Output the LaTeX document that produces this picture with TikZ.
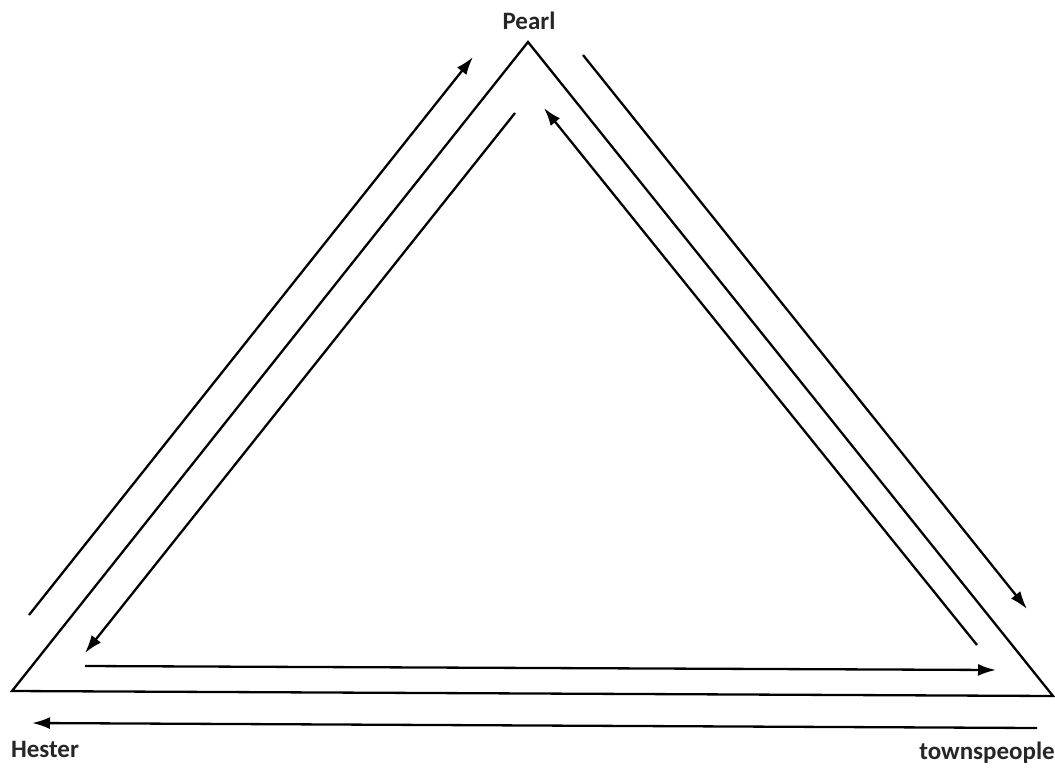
\documentclass[tikz,border=0pt]{standalone}
\usepackage{fontspec}
\setmainfont{Carlito}
\usetikzlibrary{arrows.meta}
\begin{document}
\begin{tikzpicture}[x=1pt,y=-1pt,
  edge/.style={line width=2.3pt,line join=miter},
  flow/.style={line width=2.3pt,-{Latex[length=18pt,width=12pt]}},
  lab/.style={font=\bfseries\fontsize{25}{28}\selectfont,text=black!85,inner sep=0pt}]
\useasboundingbox (0,0) rectangle (1055,769);
% triangle vertices
\coordinate (P) at (528,42);
\coordinate (H) at (12,691);
\coordinate (T) at (1053,696);
\draw[edge] (P) -- (H) -- (T) -- cycle;
% labels
\node[lab] (pearl) at (529,21) {Pearl};
\node[lab] (hester) at (45,749) {Hester};
\node[lab] (towns) at (987,753) {townspeople};
% arrow end points
\coordinate (a1s) at (29,615);   \coordinate (a1e) at (473,57);
\coordinate (a2s) at (515,113);  \coordinate (a2e) at (85,653);
\coordinate (a3s) at (85,666);   \coordinate (a3e) at (996,670);
\coordinate (a4s) at (1037,728); \coordinate (a4e) at (32,723);
\coordinate (a5s) at (583,55);   \coordinate (a5e) at (1027,609);
\coordinate (a6s) at (977,645);  \coordinate (a6e) at (544,108);
\draw[flow] (a1s) -- (a1e);
\draw[flow] (a2s) -- (a2e);
\draw[flow] (a3s) -- (a3e);
\draw[flow] (a4s) -- (a4e);
\draw[flow] (a5s) -- (a5e);
\draw[flow] (a6s) -- (a6e);
\end{tikzpicture}
\end{document}
